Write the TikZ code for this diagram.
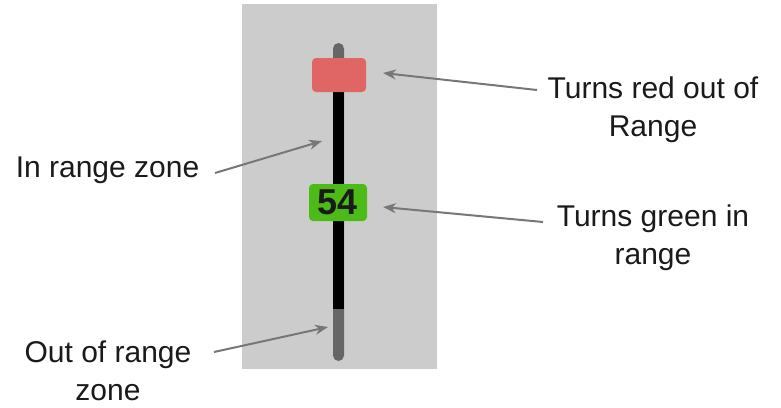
\documentclass[tikz,border=0pt]{standalone}
\usepackage{fontspec}
\setmainfont{Liberation Sans}
\usetikzlibrary{arrows.meta}
\definecolor{panelgray}{HTML}{CCCCCC}
\definecolor{trackgray}{HTML}{666666}
\definecolor{boxred}{HTML}{E06666}
\definecolor{boxgreen}{HTML}{4CBB17}
\definecolor{txt}{HTML}{1A1A1A}
\definecolor{arrowgray}{HTML}{777777}
\begin{document}
\begin{tikzpicture}[x=1pt,y=-1pt,
  panel/.style={fill=panelgray,draw=none,inner sep=0pt},
  trackpart/.style={draw=none,inner sep=0pt,minimum width=11pt},
  markbox/.style={draw=none,inner sep=0pt,rounded corners=4pt},
  label/.style={font=\fontsize{30}{38}\selectfont,align=center,inner sep=0pt,text=txt},
  callout/.style={draw=arrowgray,line width=2pt,-{Stealth[length=13pt,width=10pt]}}
]
\useasboundingbox (0,0) rectangle (781,407);
\node[panel,minimum width=195pt,minimum height=365pt] (panel) at (339.5,186.5) {};
\node[trackpart,fill=trackgray,minimum height=318pt,rounded corners=5.5pt] (track) at (338.5,202) {};
\node[trackpart,fill=black,minimum height=234pt] (inzone) at (338.5,192) {};
\node[markbox,fill=boxred,minimum width=54pt,minimum height=34pt] (redbox) at (339,75) {};
\node[markbox,fill=boxgreen,minimum width=58pt,minimum height=37pt,text=txt,font=\fontsize{36}{36}\selectfont\bfseries] (greenbox) at (338,202.5) {54};

\node[label] (redlabel) at (653,110) {Turns red out of\\Range};
\node[label] (greenlabel) at (653,237.5) {Turns green in\\range};
\node[label] (inlabel) at (107.5,170.5) {In range zone};
\node[label] (outlabel) at (108,371) {Out of range\\zone};

\coordinate (redtail) at (537,90);
\coordinate (redtip) at (383,73);
\coordinate (greentail) at (543,222);
\coordinate (greentip) at (383,207);
\coordinate (intail) at (215,173);
\coordinate (intip) at (322,141);
\coordinate (outtail) at (214,352);
\coordinate (outtip) at (328,327);

\draw[callout] (redtail) -- (redtip);
\draw[callout] (greentail) -- (greentip);
\draw[callout] (intail) -- (intip);
\draw[callout] (outtail) -- (outtip);
\end{tikzpicture}
\end{document}
